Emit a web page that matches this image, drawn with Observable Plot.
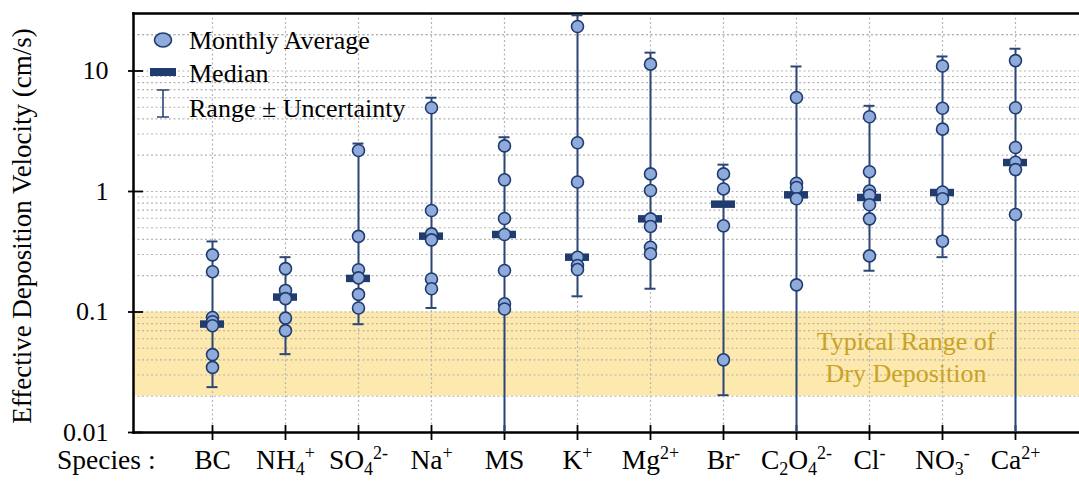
<!DOCTYPE html>
<html>
<head>
<meta charset="utf-8">
<script src="https://cdn.jsdelivr.net/npm/d3@7"></script>
<script src="https://cdn.jsdelivr.net/npm/@observablehq/plot@0.6"></script>
<style>
  html, body { margin: 0; padding: 0; background: #fff; }
  #chart svg { display: block; }
  #chart svg, #chart svg text, #chart svg tspan {
    font-family: "Liberation Serif", "Times New Roman", Times, Tinos, "DejaVu Serif", "Noto Serif", FreeSerif, serif !important;
  }
</style>
</head>
<body>
<div id="chart"></div>
<script>
// ---------- data ----------
const species = ["BC","NH4+","SO42-","Na+","MS","K+","Mg2+","Br-","C2O42-","Cl-","NO3-","Ca2+"];
const tickLabels = [
  [["BC"]],
  [["NH"],["4","sub"],["+","sup"]],
  [["SO"],["4","sub"],["2-","sup"]],
  [["Na"],["+","sup"]],
  [["MS"]],
  [["K"],["+","sup"]],
  [["Mg"],["2+","sup"]],
  [["Br"],["-","sup"]],
  [["C"],["2","sub"],["O"],["4","sub"],["2-","sup"]],
  [["Cl"],["-","sup"]],
  [["NO"],["3","sub"],["-","sup"]],
  [["Ca"],["2+","sup"]]
];
const monthly = [
  [0.298, 0.216, 0.090, 0.083, 0.077, 0.0443, 0.0347],
  [0.229, 0.151, 0.129, 0.089, 0.070],
  [2.19, 0.424, 0.224, 0.192, 0.140, 0.108],
  [4.95, 0.695, 0.445, 0.397, 0.188, 0.156],
  [2.39, 1.25, 0.597, 0.44, 0.221, 0.117, 0.106],
  [23.4, 2.54, 1.20, 0.285, 0.243, 0.225],
  [11.4, 1.40, 1.02, 0.593, 0.513, 0.345, 0.304],
  [1.40, 1.05, 0.519, 0.0401],
  [6.03, 1.17, 1.08, 0.87, 0.168],
  [4.17, 1.46, 1.01, 0.93, 0.777, 0.593, 0.292],
  [11.0, 4.91, 3.29, 0.99, 0.87, 0.387],
  [12.2, 4.95, 2.32, 1.75, 1.52, 0.644]
];
const medians   = [0.0794, 0.133, 0.19, 0.426, 0.44, 0.285, 0.593, 0.785, 0.938, 0.892, 0.98, 1.74];
const rangeLow  = [0.0238, 0.0447, 0.0792, 0.108, 0.001, 0.135, 0.156, 0.0204, 0.001, 0.22, 0.285, 0.001];
const rangeHigh = [0.385, 0.285, 2.5, 6.0, 2.82, 29, 14.2, 1.67, 10.9, 5.14, 13.2, 15.3];
const yTicks = [0.01, 0.1, 1, 10];
const yTickLabels = ["0.01", "0.1", "1", "10"];
const dryBand = [{lo: 0.02, hi: 0.1}];
const bandLabel = [{sp: "Cl-", v: 0.0435, text: "Typical Range of\nDry Deposition"}];
const legendItems = ["Monthly Average", "Median", "Range \u00b1 Uncertainty"];

// ---------- tables ----------
const summary = species.map((s, i) => ({sp: s, median: medians[i], lo: rangeLow[i], hi: rangeHigh[i]}));
const points = species.flatMap((s, i) => monthly[i].map(v => ({sp: s, v})));
const gridVals = [];
for (let e = -2; e <= 1; e++) for (let m = 1; m <= 9; m++) gridVals.push(m * 10 ** e);
gridVals.push(20, 30);

const NAVY = "#203c6e";
const LINE = "#2b4676";
const FILL = "#8fabdc";
const FONT = "Liberation Serif, Times New Roman, Times, Tinos, DejaVu Serif, serif";

const chart = Plot.plot({
  width: 1079,
  height: 501,
  marginTop: 13,
  marginBottom: 69,
  marginLeft: 133,
  marginRight: 0,
  style: {fontFamily: FONT, fontSize: "25px", background: "white", color: "black"},
  x: {type: "band", domain: species, range: [172.3, 1053.7], paddingInner: 0.673, paddingOuter: 0.3365, align: 0.5},
  y: {type: "log", domain: [0.01, 30]},
  marks: [
    Plot.rect(dryBand, {y1: "lo", y2: "hi", fill: "#fde9ad"}),
    Plot.gridY({ticks: gridVals, stroke: "#b4b4b4", strokeOpacity: 1, strokeDasharray: "2,2.5", strokeWidth: 1.2}),
    Plot.gridX({stroke: "#b4b4b4", strokeOpacity: 1, strokeDasharray: "2,2.5", strokeWidth: 1.2}),
    Plot.text(bandLabel, {x: "sp", dx: 36.5, y: "v", text: "text", fill: "#c9a227", fontSize: 26, lineHeight: 1.24}),
    Plot.frame({anchor: "top", stroke: "black", strokeWidth: 2.5}),
    Plot.frame({anchor: "left", stroke: "black", strokeWidth: 2.5}),
    Plot.frame({anchor: "bottom", stroke: "black", strokeWidth: 2.5}),
    Plot.axisY({ticks: yTicks, tickFormat: d => yTickLabels[yTicks.indexOf(d)], tickSize: 15, dx: 10, tickPadding: 20, stroke: "black", strokeWidth: 1.8, fontSize: 26, label: null}),
    Plot.axisX({tickSize: 15, dy: -7, tickFormat: () => "", stroke: "black", strokeWidth: 1.8, label: null}),
    Plot.axisX({tickSize: 0, tickPadding: 17, fontSize: 27.5, tickFormat: d => d, label: null}),
    Plot.ruleX(summary, {x: "sp", y1: "lo", y2: "hi", stroke: LINE, strokeWidth: 2, clip: true}),
    Plot.tickY(summary, {x: "sp", y: "hi", stroke: LINE, strokeWidth: 2, insetLeft: 6.5, insetRight: 6.5, clip: true}),
    Plot.tickY(summary, {x: "sp", y: "lo", stroke: LINE, strokeWidth: 2, insetLeft: 6.5, insetRight: 6.5, clip: true}),
    Plot.tickY(summary, {x: "sp", y: "median", stroke: NAVY, strokeWidth: 7.5}),
    Plot.dot(points, {x: "sp", y: "v", r: 6, fill: FILL, stroke: NAVY, strokeWidth: 1.6})
  ]
});

document.getElementById("chart").appendChild(chart);
const svg = d3.select(chart);

// sub/superscript tick labels
svg.selectAll("g[aria-label='x-axis tick label'] text").each(function() {
  const t = d3.select(this);
  const name = t.text();
  const idx = species.indexOf(name);
  if (idx < 0) return;
  t.text(null);
  let shift = 0;
  for (const [str, kind] of tickLabels[idx]) {
    const ts = t.append("tspan").text(str);
    let target = 0;
    if (kind === "sub") { ts.attr("font-size", 18); target = 6; }
    else if (kind === "sup") { ts.attr("font-size", 18); target = -10; }
    if (target !== shift) { ts.attr("dy", target - shift); shift = target; }
  }
});

// "Species :" label
svg.append("text")
  .attr("x", 57).attr("y", 469)
  .attr("text-anchor", "start")
  .attr("font-size", 27.5)
  .text("Species :");

// y-axis title
svg.append("text")
  .attr("transform", "translate(31,226) rotate(-90)")
  .attr("text-anchor", "middle")
  .attr("font-size", 27)
  .text("Effective Deposition Velocity (cm/s)");

// legend
const lg = svg.append("g").attr("font-size", 26).attr("text-anchor", "start");
lg.append("ellipse").attr("cx", 163).attr("cy", 40).attr("rx", 8.5).attr("ry", 7)
  .attr("fill", FILL).attr("stroke", NAVY).attr("stroke-width", 1.6);
lg.append("rect").attr("x", 150).attr("y", 68).attr("width", 26).attr("height", 8).attr("fill", NAVY);
lg.append("path").attr("d", "M163,90V117M157,90H169M157,117H169")
  .attr("stroke", LINE).attr("stroke-width", 1.6).attr("fill", "none");
const baselines = [49, 82, 117];
legendItems.forEach((txt, i) => {
  lg.append("text").attr("x", 189).attr("y", baselines[i]).text(txt);
});
</script>
</body>
</html>
